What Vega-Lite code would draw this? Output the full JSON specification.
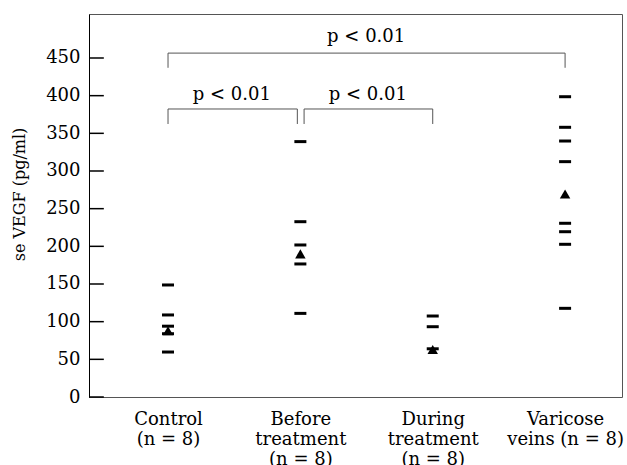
{
  "$schema": "https://vega.github.io/schema/vega-lite/v6.json",
  "width": 533,
  "height": 383,
  "autosize": "none",
  "padding": {"left": 89, "top": 14, "right": 5, "bottom": 68},
  "background": "white",
  "config": {
    "view": {"stroke": "#555555", "strokeWidth": 1},
    "font": "DejaVu Serif"
  },
  "datasets": {
    "points": [
      {"g": 1, "v": 148.7},
      {"g": 1, "v": 108.9},
      {"g": 1, "v": 94},
      {"g": 1, "v": 84},
      {"g": 1, "v": 59.7},
      {"g": 2, "v": 339},
      {"g": 2, "v": 232.7},
      {"g": 2, "v": 201.8},
      {"g": 2, "v": 176.6},
      {"g": 2, "v": 111},
      {"g": 3, "v": 107.5},
      {"g": 3, "v": 93.3},
      {"g": 3, "v": 64},
      {"g": 4, "v": 398.6},
      {"g": 4, "v": 358},
      {"g": 4, "v": 339.8},
      {"g": 4, "v": 312.4},
      {"g": 4, "v": 230.6},
      {"g": 4, "v": 219.4},
      {"g": 4, "v": 202.7},
      {"g": 4, "v": 117.7}
    ],
    "means": [
      {"g": 1, "v": 88},
      {"g": 2, "v": 190},
      {"g": 3, "v": 63},
      {"g": 4, "v": 269.5}
    ],
    "yticks": [
      {"v": 0}, {"v": 50}, {"v": 100}, {"v": 150}, {"v": 200},
      {"v": 250}, {"v": 300}, {"v": 350}, {"v": 400}, {"v": 450}
    ],
    "brackets": [
      {"x": 1, "x2": 4, "y": 456.5, "y2": 456.5},
      {"x": 1, "x2": 1, "y": 456.5, "y2": 437},
      {"x": 4, "x2": 4, "y": 456.5, "y2": 437},
      {"x": 1, "x2": 1.977, "y": 382.3, "y2": 382.3},
      {"x": 1, "x2": 1, "y": 382.3, "y2": 362.4},
      {"x": 1.977, "x2": 1.977, "y": 382.3, "y2": 362.4},
      {"x": 2.028, "x2": 3, "y": 382.3, "y2": 382.3},
      {"x": 2.028, "x2": 2.028, "y": 382.3, "y2": 362.4},
      {"x": 3, "x2": 3, "y": 382.3, "y2": 362.4}
    ],
    "labels": [
      {"x": 2.497, "y": 471.6, "t": "p < 0.01"},
      {"x": 1.482, "y": 394, "t": "p < 0.01"},
      {"x": 2.51, "y": 394, "t": "p < 0.01"}
    ]
  },
  "layer": [
    {
      "data": {"name": "points"},
      "mark": {"type": "tick", "orient": "horizontal", "size": 12, "thickness": 3, "color": "black", "opacity": 1},
      "encoding": {
        "x": {
          "field": "g", "type": "quantitative",
          "scale": {"domain": [0.403, 4.43], "nice": false, "zero": false},
          "axis": {
            "values": [1, 2, 3, 4],
            "title": null,
            "domain": false,
            "ticks": false,
            "grid": false,
            "labelExpr": "datum.value == 1 ? ['Control', '(n = 8)'] : datum.value == 2 ? ['Before', 'treatment', '(n = 8)'] : datum.value == 3 ? ['During', 'treatment', '(n = 8)'] : ['Varicose', 'veins (n = 8)']",
            "labelFont": "DejaVu Serif",
            "labelFontSize": 18,
            "labelColor": "black",
            "labelLineHeight": 20,
            "labelPadding": 13,
            "labelBaseline": "top",
            "labelOverlap": false,
            "labelFlush": false
          }
        },
        "y": {
          "field": "v", "type": "quantitative",
          "scale": {"domain": [0, 508.4], "nice": false, "zero": false},
          "axis": {
            "orient": "left",
            "values": [0, 50, 100, 150, 200, 250, 300, 350, 400, 450],
            "title": "se VEGF (pg/ml)",
            "titleFont": "DejaVu Serif",
            "titleFontSize": 16,
            "titleFontWeight": "normal",
            "titleColor": "black",
            "titleX": -62,
            "titleY": 180,
            "grid": false,
            "domainColor": "black",
            "domainWidth": 1,
            "ticks": false,
            "labelPadding": 9,
            "labelFont": "DejaVu Serif",
            "labelFontSize": 18,
            "labelColor": "black"
          }
        }
      }
    },
    {
      "data": {"name": "yticks"},
      "mark": {"type": "rule", "color": "black", "strokeWidth": 1.5},
      "encoding": {
        "x": {"datum": 0.403, "type": "quantitative"},
        "x2": {"datum": 0.515},
        "y": {"field": "v", "type": "quantitative"}
      }
    },
    {
      "data": {"name": "means"},
      "mark": {"type": "point", "shape": "triangle-up", "filled": true, "size": 110, "color": "black", "opacity": 1},
      "encoding": {
        "x": {"field": "g", "type": "quantitative"},
        "y": {"field": "v", "type": "quantitative"}
      }
    },
    {
      "data": {"name": "brackets"},
      "mark": {"type": "rule", "color": "#555555", "strokeWidth": 1},
      "encoding": {
        "x": {"field": "x", "type": "quantitative"},
        "x2": {"field": "x2"},
        "y": {"field": "y", "type": "quantitative"},
        "y2": {"field": "y2"}
      }
    },
    {
      "data": {"name": "labels"},
      "mark": {"type": "text", "font": "DejaVu Serif", "fontSize": 18, "color": "black", "baseline": "alphabetic", "align": "center"},
      "encoding": {
        "x": {"field": "x", "type": "quantitative"},
        "y": {"field": "y", "type": "quantitative"},
        "text": {"field": "t"}
      }
    }
  ]
}
